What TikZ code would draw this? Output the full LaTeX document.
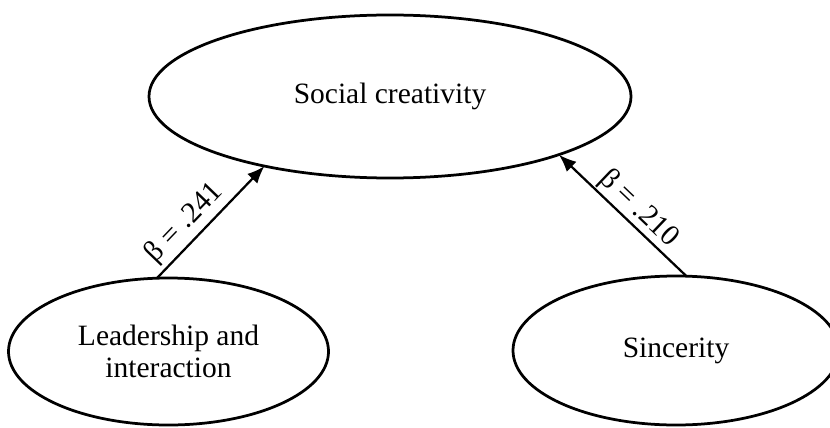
\documentclass[tikz,border=0pt]{standalone}
\usepackage{fontspec}
\setmainfont{Liberation Serif}
\usetikzlibrary{shapes.geometric,arrows.meta}
\begin{document}
\begin{tikzpicture}[>={Latex[length=7pt,width=5.6pt]}, x=0.4pt, y=0.4pt, font=\fontsize{11.8}{12.8}\selectfont]

\tikzstyle{var}=[draw, ellipse, line width=1.1pt, inner sep=0pt, outer sep=0pt, align=center]
\tikzstyle{eff}=[->, line width=0.9pt]
\tikzstyle{coef}=[sloped, above, inner sep=1.5pt]

\useasboundingbox (0,0) rectangle (830,427);

% --- top: outcome ---
\node[var, minimum width=192.8pt, minimum height=65.2pt] (social) at (390,330.5) {Social creativity};

% --- bottom: predictors ---
\node[var, minimum width=128pt, minimum height=58.8pt] (lead) at (168.5,75.5) {Leadership and\\interaction};
\node[var, minimum width=130.4pt, minimum height=59.6pt] (sinc) at (676,76.5) {Sincerity};

% --- arrows = path coefficients ---
\draw[eff] (lead.99) -- node[coef, pos=0.38] {β = .241} (social.209);
\draw[eff] (sinc.82) -- node[coef, pos=0.46, inner sep=0.5pt] {β = .210} (social.341);

\end{tikzpicture}
\end{document}
